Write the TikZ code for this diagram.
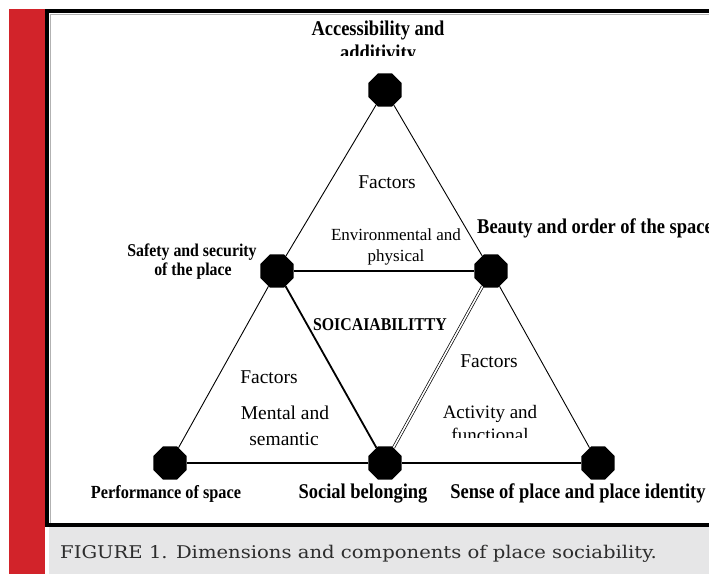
\documentclass[tikz,border=0pt]{standalone}
\usepackage{fontspec}
\setmainfont{Liberation Serif}
\newfontfamily\narrowfont[FakeStretch=0.88]{Liberation Serif}
\newfontfamily\capfont[FakeStretch=1.12]{DejaVu Serif}
\usetikzlibrary{shapes.geometric}
\definecolor{barred}{RGB}{210,35,42}
\definecolor{capgray}{RGB}{230,230,231}
\definecolor{captext}{RGB}{45,45,45}

\begin{document}
\begin{tikzpicture}[x=1pt,y=-1pt,
	dot/.style={regular polygon,regular polygon sides=8,fill=black,minimum size=36pt,inner sep=0pt},
	dimlabel/.style={font=\narrowfont\bfseries\fontsize{#1}{#1}\selectfont,anchor=base,inner sep=0pt},
	dimlabel/.default=21,
	faclabel/.style={font=\fontsize{#1}{#1}\selectfont,anchor=base,inner sep=0pt},
	faclabel/.default=19.5]
	\useasboundingbox (0,0) rectangle (709,574);

	% rand und bildunterschrift
	\fill[barred] (9,9) rectangle (45,574);
	\fill[capgray] (49,527) rectangle (709,574);
	\draw[black!30,line width=1pt] (50,14.5) -- (709,14.5);
	\draw[black!30,line width=1pt] (50.5,14) -- (50.5,523);
	\draw[line width=4pt] (45,11) -- (709,11);
	\draw[line width=4pt] (47,9) -- (47,527);
	\draw[line width=3.5pt] (45,525) -- (709,525);
	\node[anchor=base west,font=\capfont\fontsize{17.5}{20}\selectfont,text=captext,inner sep=0pt] (cap) at (60,558)
		{FIGURE 1. Dimensions and components of place sociability.};

	% ecken
	\node[dot] (apex) at (385,90) {};
	\node[dot] (safety) at (277,271) {};
	\node[dot] (beauty) at (491,271) {};
	\node[dot] (perf) at (170,463) {};
	\node[dot] (social) at (385,463) {};
	\node[dot] (sense) at (598,463) {};

	\draw[line width=0.9pt] (apex) -- (safety);
	\draw[line width=0.9pt] (apex) -- (beauty);
	\draw[line width=0.9pt] (safety) -- (perf);
	\draw[line width=0.9pt] (beauty) -- (sense);
	\draw[line width=1.3pt] (safety) -- (beauty);
	\draw[line width=1.5pt] (perf) -- (social);
	\draw[line width=1.5pt] (social) -- (sense);
	\draw[line width=1.8pt] (safety) -- (social);
	\draw[line width=0.7pt,double,double distance=1.6pt] (beauty) -- (social);

	% beschriftung der ecken
	\node[dimlabel] (tacc) at (378,35) {Accessibility and};
	\begin{scope}
		\clip (300,40) rectangle (460,55.5);
		\node[dimlabel] (tadd) at (378,59) {additivity};
	\end{scope}
	\node[dimlabel, anchor=base west] (tbeauty) at (477,233) {Beauty and order of the space};
	\node[dimlabel=18] (tsafety) at (192,256) {Safety and security};
	\node[dimlabel=18] (tplace) at (193,275) {of the place};
	\node[dimlabel=18.5] (tperf) at (166,498) {Performance of space};
	\node[dimlabel] (tsocial) at (363,498) {Social belonging};
	\node[dimlabel] (tsense) at (578,498) {Sense of place and place identity};
	\node[dimlabel=18] (tsoc) at (380,330) {SOICAIABILITTY};

	% faktoren
	\node[faclabel] (fenv) at (387,188) {Factors};
	\node[faclabel=17] (tenv) at (396,240) {Environmental and};
	\node[faclabel=17] (tphys) at (396,261) {physical};
	\node[faclabel] (fment) at (269,383) {Factors};
	\node[faclabel] (tment) at (285,419) {Mental and};
	\node[faclabel] (tsem) at (284,445) {semantic};
	\node[faclabel] (fact) at (489,367) {Factors};
	\node[faclabel=19] (tact) at (490,418) {Activity and};
	\begin{scope}
		\clip (420,420) rectangle (560,437.5);
		\node[faclabel=19] (tfun) at (490,441) {functional};
	\end{scope}
\end{tikzpicture}
\end{document}
